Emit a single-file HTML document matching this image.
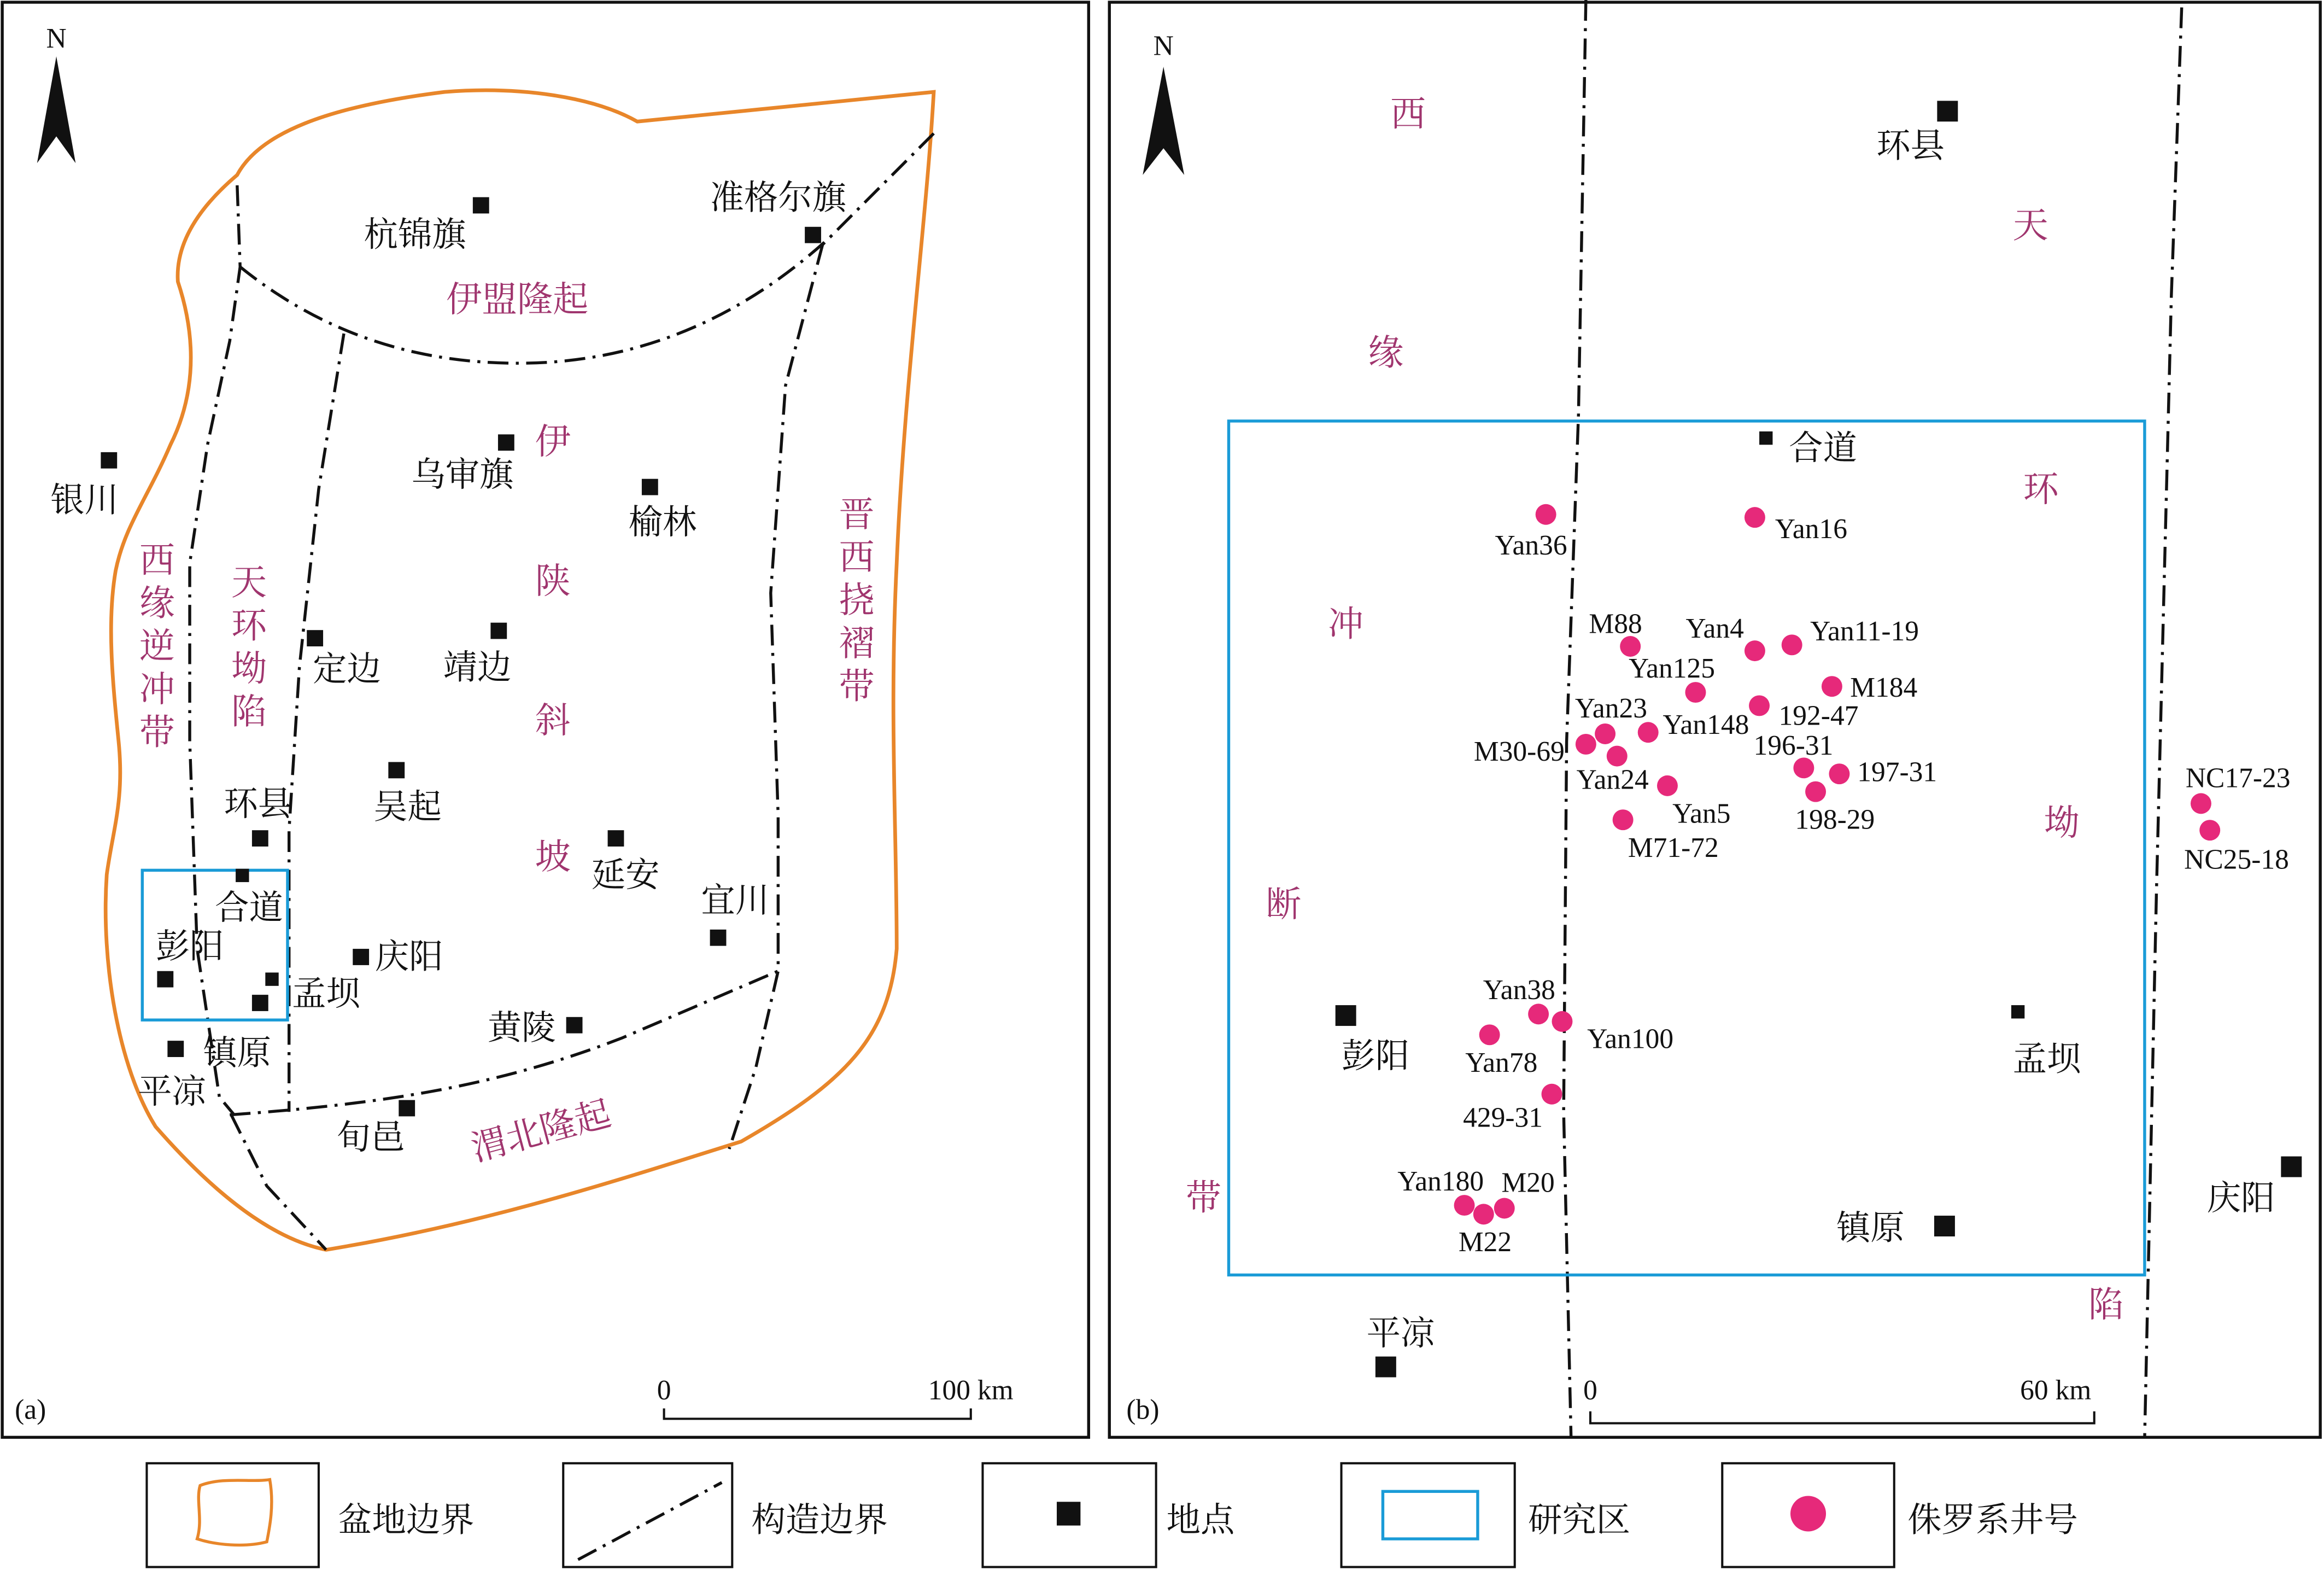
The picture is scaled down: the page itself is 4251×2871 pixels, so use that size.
<!DOCTYPE html>
<html><head><meta charset="utf-8"><style>
html,body{margin:0;padding:0;background:#fff;}
svg{display:block;}
text{font-family:"Liberation Serif","Noto Serif CJK SC",serif;}
.cn{font-size:23px;fill:#111;}
.pp{font-size:24px;fill:#a0356e;}
.lt{font-size:19px;fill:#111;}
.dd{fill:none;stroke:#111;stroke-width:2;stroke-dasharray:14 5 2 5;}
.sq{fill:#111;}
.dot{fill:#e6297a;}
</style></head><body>
<svg width="4251" height="2871" viewBox="0 0 1568 1059" xmlns="http://www.w3.org/2000/svg">
<rect width="1568" height="1059" fill="#fff"/>
<!-- panel a -->
<rect x="1.5" y="1.5" width="733" height="968" fill="none" stroke="#111" stroke-width="2"/>
<text x="38" y="32" class="lt" text-anchor="middle" font-size="21">N</text>
<polygon points="38,38 25,110 38,92 51,110" fill="#111"/>
<path d="M160,118 C175,90 220,72 300,62 C350,58 400,65 430,82 L630,62 C625,150 610,260 605,380 C600,480 605,560 605,640 C600,700 570,730 500,770 C420,795 330,825 220,843 C180,835 140,800 105,760 C80,720 68,650 72,590 C76,560 84,540 80,500 C76,460 72,420 78,385 C84,355 100,335 115,300 C135,260 130,220 120,190 C118,160 140,135 160,118 Z" fill="none" stroke="#e8862a" stroke-width="2.5"/>
<path class="dd" d="M162,180 C230,235 300,245 350,245 C430,245 500,215 560,160"/>
<path class="dd" d="M630,90 L555,165"/>
<path class="dd" d="M160,125 L162,180 L155,230 L140,300 L128,380 L128,500 L133,640 L148,740 L158,752 M156,752 L180,800 L220,843"/>
<path class="dd" d="M232,225 L215,330 L202,450 L195,560 L195,750"/>
<path class="dd" d="M555,165 L530,260 L520,400 L525,550 L525,655 L510,720 L492,775"/>
<path class="dd" d="M155,752 C250,745 330,735 420,700 L525,655"/>
<rect x="96" y="587" width="98" height="101" fill="none" stroke="#1a9bd7" stroke-width="2"/>
<g class="sq">
<rect x="319" y="133" width="11" height="11"/><rect x="543" y="153" width="11" height="11"/>
<rect x="336" y="293" width="11" height="11"/><rect x="433" y="323" width="11" height="11"/>
<rect x="68" y="305" width="11" height="11"/><rect x="207" y="425" width="11" height="11"/>
<rect x="331" y="420" width="11" height="11"/><rect x="262" y="514" width="11" height="11"/>
<rect x="410" y="560" width="11" height="11"/><rect x="479" y="627" width="11" height="11"/>
<rect x="170" y="560" width="11" height="11"/><rect x="159" y="586" width="9" height="9"/>
<rect x="106" y="655" width="11" height="11"/><rect x="179" y="656" width="9" height="9"/>
<rect x="170" y="671" width="11" height="11"/><rect x="238" y="640" width="11" height="11"/>
<rect x="382" y="686" width="11" height="11"/><rect x="113" y="702" width="11" height="11"/>
<rect x="269" y="742" width="11" height="11"/>
</g>
<g class="cn" text-anchor="middle">
<text x="280" y="166">杭锦旗</text><text x="525" y="141">准格尔旗</text>
<text x="312" y="328">乌审旗</text><text x="447" y="360">榆林</text>
<text x="57" y="345">银川</text><text x="234" y="459">定边</text>
<text x="322" y="458">靖边</text><text x="275" y="552">吴起</text>
<text x="422" y="598">延安</text><text x="496" y="615">宜川</text>
<text x="174" y="550">环县</text><text x="168" y="620">合道</text>
<text x="128" y="646">彭阳</text><text x="220" y="678">孟坝</text>
<text x="276" y="653">庆阳</text><text x="352" y="701">黄陵</text>
<text x="160" y="718">镇原</text><text x="116" y="744">平凉</text>
<text x="250" y="775">旬邑</text>
</g>
<g class="pp" text-anchor="middle">
<text x="349" y="210">伊盟隆起</text>
<text x="373" y="306">伊</text><text x="373" y="400">陕</text><text x="373" y="494">斜</text><text x="373" y="586">坡</text>
<text x="578" y="355">晋</text><text x="578" y="384">西</text><text x="578" y="413">挠</text><text x="578" y="442">褶</text><text x="578" y="471">带</text>
<text x="106" y="386">西</text><text x="106" y="415">缘</text><text x="106" y="444">逆</text><text x="106" y="473">冲</text><text x="106" y="502">带</text>
<text x="168" y="401">天</text><text x="168" y="430">环</text><text x="168" y="459">坳</text><text x="168" y="488">陷</text>
<text x="365" y="771" transform="rotate(-15 365 763)">渭北隆起</text>
</g>
<text x="10" y="957" class="lt" font-size="21">(a)</text>
<path d="M448,950 L448,957 L655,957 L655,950" fill="none" stroke="#111" stroke-width="1.5"/>
<text x="448" y="944" class="lt" font-size="21" text-anchor="middle">0</text>
<text x="655" y="944" class="lt" font-size="21" text-anchor="middle">100 km</text>

<!-- panel b -->
<rect x="748.5" y="1.5" width="817" height="968" fill="none" stroke="#111" stroke-width="2"/>
<text x="785" y="37" class="lt" text-anchor="middle" font-size="21">N</text>
<polygon points="785,45 771,118 785,100 799,118" fill="#111"/>
<path class="dd" d="M1070,0 L1065,280 L1057,500 L1055,750 L1060,970"/>
<path class="dd" d="M1472,5 L1465,200 L1455,600 L1447,970"/>
<rect x="829" y="284" width="618" height="576" fill="none" stroke="#1a9bd7" stroke-width="2"/>
<g class="pp" text-anchor="middle">
<text x="950" y="85">西</text><text x="935" y="246">缘</text><text x="908" y="429">冲</text><text x="866" y="618">断</text><text x="812" y="816">带</text>
<text x="1370" y="160">天</text><text x="1377" y="338">环</text><text x="1391" y="563">坳</text><text x="1421" y="888">陷</text>
</g>
<g class="sq">
<rect x="1307" y="68" width="14" height="14"/><rect x="1187" y="291" width="9" height="9"/>
<rect x="901" y="678" width="14" height="14"/><rect x="1357" y="678" width="9" height="9"/>
<rect x="1305" y="820" width="14" height="14"/><rect x="928" y="915" width="14" height="14"/>
<rect x="1539" y="780" width="14" height="14"/>
</g>
<g class="cn" text-anchor="middle">
<text x="1289" y="106">环县</text><text x="1230" y="310">合道</text>
<text x="928" y="720">彭阳</text><text x="1381" y="722">孟坝</text>
<text x="1262" y="836">镇原</text><text x="945" y="907">平凉</text>
<text x="1512" y="816">庆阳</text>
</g>
<g class="dot">
<circle cx="1043" cy="347" r="7"/><circle cx="1184" cy="349" r="7"/>
<circle cx="1100" cy="436" r="7"/><circle cx="1184" cy="439" r="7"/><circle cx="1209" cy="435" r="7"/>
<circle cx="1144" cy="467" r="7"/><circle cx="1236" cy="463" r="7"/><circle cx="1187" cy="476" r="7"/>
<circle cx="1083" cy="495" r="7"/><circle cx="1070" cy="502" r="7"/><circle cx="1091" cy="510" r="7"/>
<circle cx="1112" cy="494" r="7"/><circle cx="1217" cy="518" r="7"/><circle cx="1241" cy="522" r="7"/>
<circle cx="1225" cy="534" r="7"/><circle cx="1125" cy="530" r="7"/><circle cx="1095" cy="553" r="7"/>
<circle cx="1485" cy="542" r="7"/><circle cx="1491" cy="560" r="7"/>
<circle cx="1038" cy="684" r="7"/><circle cx="1054" cy="689" r="7"/><circle cx="1005" cy="698" r="7"/>
<circle cx="1047" cy="738" r="7"/><circle cx="988" cy="813" r="7"/><circle cx="1001" cy="819" r="7"/><circle cx="1015" cy="815" r="7"/>
</g>
<g class="lt" text-anchor="middle">
<text x="1033" y="374">Yan36</text><text x="1222" y="363">Yan16</text>
<text x="1090" y="427">M88</text><text x="1157" y="430">Yan4</text><text x="1258" y="432">Yan11-19</text>
<text x="1128" y="457">Yan125</text><text x="1271" y="470">M184</text><text x="1227" y="489">192-47</text>
<text x="1087" y="484">Yan23</text><text x="1151" y="495">Yan148</text><text x="1025" y="513">M30-69</text>
<text x="1210" y="509">196-31</text><text x="1280" y="527">197-31</text><text x="1238" y="559">198-29</text>
<text x="1088" y="532">Yan24</text><text x="1148" y="555">Yan5</text><text x="1129" y="578">M71-72</text>
<text x="1510" y="531">NC17-23</text><text x="1509" y="586">NC25-18</text>
<text x="1025" y="674">Yan38</text><text x="1100" y="707">Yan100</text><text x="1013" y="723">Yan78</text>
<text x="1014" y="760">429-31</text><text x="972" y="803">Yan180</text><text x="1031" y="804">M20</text><text x="1002" y="844">M22</text>
</g>
<text x="760" y="957" class="lt" font-size="21">(b)</text>
<path d="M1073,952 L1073,960 L1413,960 L1413,952" fill="none" stroke="#111" stroke-width="1.5"/>
<text x="1073" y="944" class="lt" font-size="21" text-anchor="middle">0</text>
<text x="1387" y="944" class="lt" font-size="21" text-anchor="middle">60 km</text>

<!-- legend -->
<g fill="none" stroke="#111" stroke-width="1.5">
<rect x="99" y="987" width="116" height="70"/><rect x="380" y="987" width="114" height="70"/>
<rect x="663" y="987" width="117" height="70"/><rect x="905" y="987" width="117" height="70"/>
<rect x="1162" y="987" width="116" height="70"/>
</g>
<path d="M135,1002 C150,996 170,1000 182,998 C185,1015 182,1030 180,1040 C165,1044 145,1042 133,1038 C137,1025 132,1012 135,1002 Z" fill="none" stroke="#e8862a" stroke-width="2"/>
<path class="dd" d="M390,1052 L487,1000"/>
<rect x="713" y="1013" width="16" height="16" fill="#111"/>
<rect x="933" y="1006" width="64" height="32" fill="none" stroke="#1a9bd7" stroke-width="2"/>
<circle cx="1220" cy="1021" r="12" fill="#e6297a"/>
<g class="cn" font-size="30">
<text x="228" y="1033">盆地边界</text><text x="507" y="1033">构造边界</text>
<text x="787" y="1033">地点</text><text x="1031" y="1033">研究区</text>
<text x="1287" y="1033">侏罗系井号</text>
</g>
</svg>
</body></html>
